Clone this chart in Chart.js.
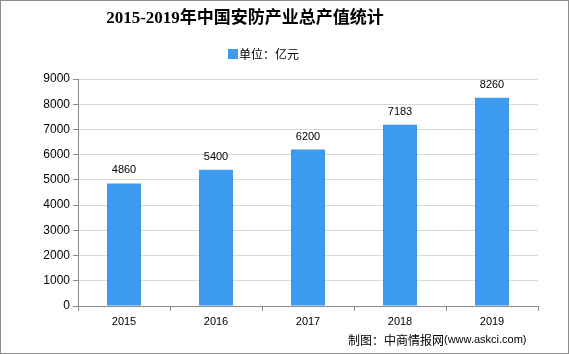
<!DOCTYPE html>
<html>
<head>
<meta charset="utf-8">
<script src="https://cdn.jsdelivr.net/npm/chart.js@4"></script>
<style>
  html, body { margin: 0; padding: 0; background: #fff; }
  canvas { display: block; }
</style>
</head>
<body>
<canvas id="securityChart" width="569" height="354"></canvas>
<script>
const years = ['2015', '2016', '2017', '2018', '2019'];
const outputValues = [4860, 5400, 6200, 7183, 8260];
const yTicks = [0, 1000, 2000, 3000, 4000, 5000, 6000, 7000, 8000, 9000];

const titleText = '2015-2019年中国安防产业总产值统计';
const seriesLabel = '单位：亿元';
const sourceText = '制图：中商情报网';
const sourceUrl = '(www.askci.com)';

const barColor = '#3d9bef';

// title, legend, value labels, footer and frame
const decorations = {
    id: 'decorations',
    afterDraw(chart) {
        const ctx = chart.ctx;
        ctx.save();

        ctx.fillStyle = '#000';
        ctx.textAlign = 'center';
        ctx.textBaseline = 'middle';
        ctx.font = 'bold 17px "Liberation Serif", "Noto Sans CJK SC", serif';
        ctx.fillText(titleText, 245, 19);

        ctx.fillStyle = barColor;
        ctx.fillRect(228, 49, 10, 10);
        ctx.fillStyle = '#000';
        ctx.textAlign = 'left';
        ctx.font = '12px "Noto Sans CJK SC", sans-serif';
        ctx.fillText(seriesLabel, 239, 54);

        const meta = chart.getDatasetMeta(0);
        ctx.textAlign = 'center';
        ctx.textBaseline = 'alphabetic';
        ctx.font = '11px "Liberation Sans", Arial, sans-serif';
        meta.data.forEach((bar, i) => {
            ctx.fillText(String(outputValues[i]), bar.x, bar.y - 10);
        });

        ctx.textAlign = 'left';
        ctx.textBaseline = 'middle';
        ctx.font = '12px "Noto Sans CJK SC", sans-serif';
        ctx.fillText(sourceText, 348, 340);
        const w = ctx.measureText(sourceText).width;
        ctx.font = '11px "Liberation Sans", Arial, sans-serif';
        ctx.fillText(sourceUrl, 348 + w, 340);

        ctx.strokeStyle = '#8c8c8c';
        ctx.lineWidth = 1;
        ctx.strokeRect(0.5, 0.5, chart.width - 1, chart.height - 1);
        ctx.restore();
    }
};

const ctx = document.getElementById('securityChart').getContext('2d');
const securityChart = new Chart(ctx, {
    type: 'bar',
    data: {
        labels: years,
        datasets: [{
            label: seriesLabel,
            data: outputValues,
            backgroundColor: barColor,
            categoryPercentage: 0.74,
            barPercentage: 0.5
        }]
    },
    options: {
        responsive: false,
        animation: false,
        layout: {
            padding: { top: 79, right: 31, bottom: 0, left: 0 }
        },
        plugins: {
            legend: { display: false },
            title: { display: false },
            tooltip: { enabled: false }
        },
        scales: {
            x: {
                grid: {
                    offset: true,
                    drawOnChartArea: false,
                    color: '#8c8c8c',
                    tickLength: 5
                },
                border: { color: '#8c8c8c' },
                ticks: {
                    color: '#000',
                    padding: 4,
                    font: { family: '"Liberation Sans", Arial, sans-serif', size: 11 }
                },
                afterFit(scale) { scale.height = 48; }
            },
            y: {
                min: 0,
                max: 9000,
                afterBuildTicks(scale) {
                    scale.ticks = yTicks.map(v => ({ value: v }));
                },
                grid: {
                    color: '#d9d9d9',
                    tickColor: '#8c8c8c',
                    tickLength: 5
                },
                border: { color: '#8c8c8c' },
                ticks: {
                    color: '#000',
                    padding: 3,
                    font: { family: '"Liberation Sans", Arial, sans-serif', size: 12 },
                    callback: value => String(value)
                },
                afterFit(scale) { scale.width = 78; }
            }
        }
    },
    plugins: [decorations]
});
</script>
</body>
</html>
